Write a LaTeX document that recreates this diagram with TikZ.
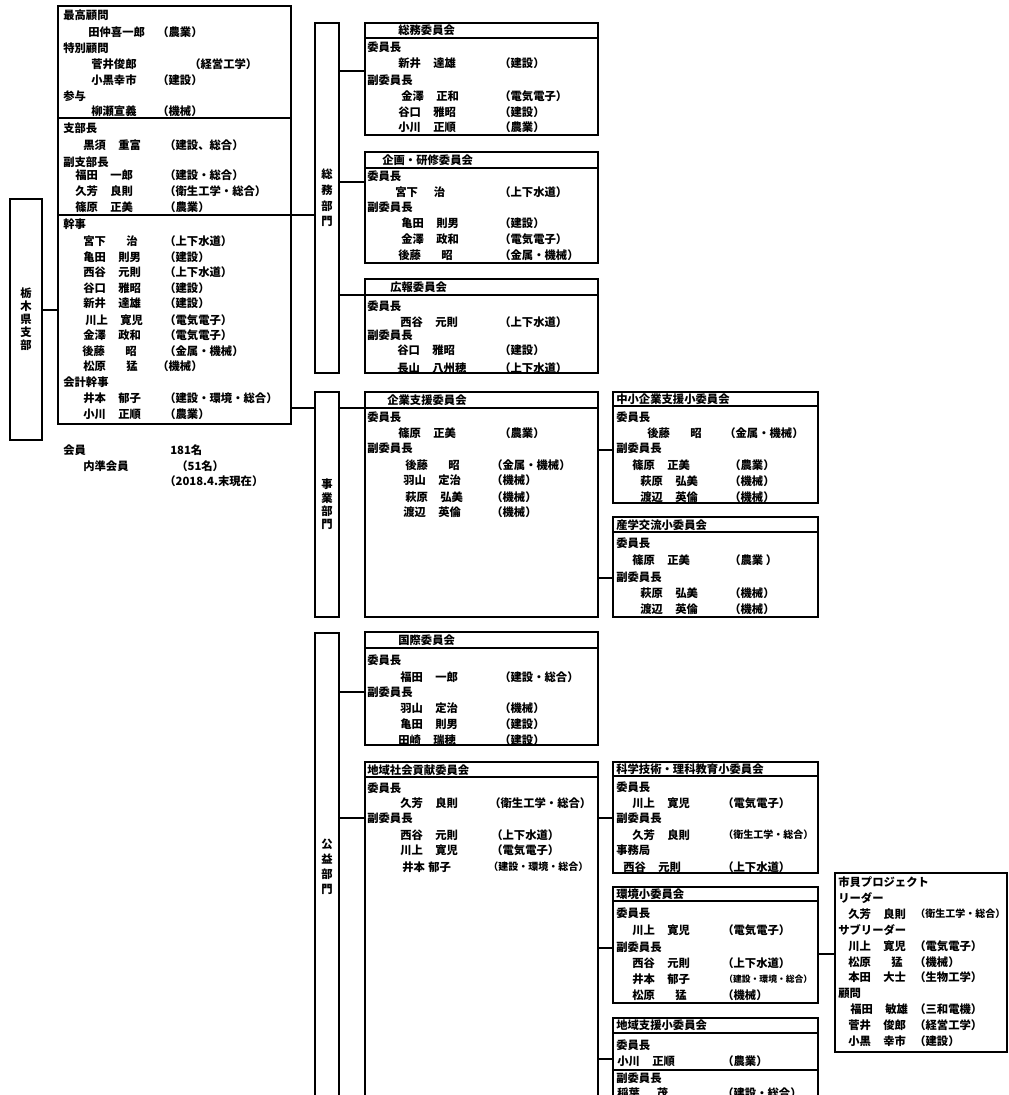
\documentclass[tikz,border=0pt]{standalone}
\usepackage{fontspec}
\setmainfont{Noto Sans CJK JP}
\usetikzlibrary{fit}
\tikzset{
  frame/.style={draw, line width=0.9pt, inner sep=0pt},
  link/.style={line width=0.9pt},
  lbl/.style={anchor=west, inner sep=0pt, font=\bfseries\fontsize{8.5}{10}\selectfont},
  vtxt/.style={align=center, inner sep=0pt, font=\bfseries\fontsize{8.5}{#1}\selectfont},
}
\newcommand\gap{\hspace{1.1em}}
\newcommand\wgap{\hspace{1.8em}}
\newcommand\smf{\fontsize{7.5}{9}\selectfont}
\newcommand\xsf{\fontsize{6.6}{8}\selectfont}
\newcommand\mem[6]{\node[lbl] (#1) at (#2,#3) {#4}; \node[lbl] (#1a) at (#5,#3) {#6};}
\newcommand\hdiv[2]{\draw[link] (#1.west |- #2) -- (#1.east |- #2);}

\begin{document}
\begin{tikzpicture}[x=0.75pt, y=-0.75pt]
  \useasboundingbox (0,0) rectangle (1009,1095);
  \foreach \n in {38,71,118,168,182,215,295,310,406,408,450,532,578,648,692,776,777,818,901,948,954,1033,1059,1070}
    \coordinate (h\n) at (0,\n);

  % boxes
  \node[frame, fit={(10,199) (42,440)}] (shibu) {};
  \node[frame, fit={(58,6) (291,424)}] (kanbu) {};
  \node[frame, fit={(315,23) (339,373)}] (somubu) {};
  \node[frame, fit={(315,392) (339,617)}] (jigyobu) {};
  \node[frame, fit={(315,633) (339,1100)}] (koekibu) {};
  \node[frame, fit={(365,23) (598,135)}] (somu) {};
  \node[frame, fit={(365,152) (598,263)}] (kikaku) {};
  \node[frame, fit={(365,279) (598,373)}] (koho) {};
  \node[frame, fit={(365,392) (598,617)}] (kigyo) {};
  \node[frame, fit={(613,392) (818,503)}] (chusho) {};
  \node[frame, fit={(613,517) (818,617)}] (sangaku) {};
  \node[frame, fit={(365,632) (598,745)}] (kokusai) {};
  \node[frame, fit={(365,762) (598,1100)}] (chiiki) {};
  \node[frame, fit={(613,762) (818,873)}] (kagaku) {};
  \node[frame, fit={(613,887) (818,1003)}] (kankyo) {};
  \node[frame, fit={(613,1018) (818,1100)}] (shien) {};
  \node[frame, fit={(835,873) (1007,1052)}] (shimin) {};

  \hdiv{kanbu}{h118} \hdiv{kanbu}{h215}
  \hdiv{somu}{h38} \hdiv{kikaku}{h168} \hdiv{koho}{h295}
  \hdiv{kigyo}{h408} \hdiv{chusho}{h406} \hdiv{sangaku}{h532}
  \hdiv{kokusai}{h648} \hdiv{chiiki}{h777} \hdiv{kagaku}{h776}
  \hdiv{kankyo}{h901} \hdiv{shien}{h1033} \hdiv{shien}{h1070}

  % connectors
  \draw[link] (shibu.east |- h310) -- (kanbu.west |- h310);
  \draw[link] (kanbu.east |- h215) -- (somubu.west |- h215);
  \draw[link] (kanbu.east |- h408) -- (jigyobu.west |- h408);
  \draw[link] (somubu.east |- h71) -- (somu.west |- h71);
  \draw[link] (somubu.east |- h182) -- (kikaku.west |- h182);
  \draw[link] (somubu.east |- h295) -- (koho.west |- h295);
  \draw[link] (jigyobu.east |- h408) -- (kigyo.west |- h408);
  \draw[link] (kigyo.east |- h450) -- (chusho.west |- h450);
  \draw[link] (kigyo.east |- h578) -- (sangaku.west |- h578);
  \draw[link] (koekibu.east |- h692) -- (kokusai.west |- h692);
  \draw[link] (koekibu.east |- h818) -- (chiiki.west |- h818);
  \draw[link] (chiiki.east |- h818) -- (kagaku.west |- h818);
  \draw[link] (chiiki.east |- h948) -- (kankyo.west |- h948);
  \draw[link] (chiiki.east |- h1059) -- (shien.west |- h1059);
  \draw[link] (kankyo.east |- h954) -- (shimin.west |- h954);

  % vertical labels
  \node[vtxt=9.8pt] (shibut) at (shibu.center) {栃\\木\\県\\支\\部};
  \node[vtxt=11.8pt] (somubut) at (somubu.center) {総\\務\\部\\門};
  \node[vtxt=10pt] (jigyobut) at (jigyobu.center) {事\\業\\部\\門};
  \node[vtxt=11.3pt] (koekibut) at (327,867) {公\\益\\部\\門};

  % officers
  \node[lbl] (k1) at (63,15) {最高顧問};
  \mem{k2}{88}{32}{田仲喜一郎}{157}{（農業）}
  \node[lbl] (k3) at (63,48) {特別顧問};
  \mem{k4}{91}{64}{菅井俊郎}{189}{（経営工学）}
  \mem{k5}{91}{80}{小黒幸市}{157}{（建設）}
  \node[lbl] (k6) at (63,96) {参与};
  \mem{k7}{91}{111}{柳瀬宣義}{157}{（機械）}
  \node[lbl] (k8) at (63,128) {支部長};
  \mem{k9}{83}{145}{黒須\gap 重富}{164}{（建設、総合）}
  \node[lbl] (k10) at (63,162) {副支部長};
  \mem{k11}{75}{175}{福田\gap 一郎}{164}{（建設・総合）}
  \mem{k12}{75}{191}{久芳\gap 良則}{164}{（衛生工学・総合）}
  \mem{k13}{75}{207}{篠原\gap 正美}{164}{（農業）}
  \node[lbl] (k14) at (63,224) {幹事};
  \mem{k15}{83}{241}{宮下\wgap 治}{164}{（上下水道）}
  \mem{k16}{83}{257}{亀田\gap 則男}{164}{（建設）}
  \mem{k17}{83}{272}{西谷\gap 元則}{164}{（上下水道）}
  \mem{k18}{83}{288}{谷口\gap 雅昭}{164}{（建設）}
  \mem{k19}{83}{303}{新井\gap 達雄}{164}{（建設）}
  \mem{k20}{85}{320}{川上\gap 寛児}{164}{（電気電子）}
  \mem{k21}{83}{335}{金澤\gap 政和}{164}{（電気電子）}
  \mem{k22}{82}{351}{後藤\wgap 昭}{164}{（金属・機械）}
  \mem{k23}{83}{366}{松原\wgap 猛}{157}{（機械）}
  \node[lbl] (k24) at (63,382) {会計幹事};
  \mem{k25}{83}{398}{井本\gap 郁子}{164}{（建設・環境・総合）}
  \mem{k26}{83}{414}{小川\gap 正順}{164}{（農業）}

  % members
  \mem{m1}{63}{450}{会員}{170}{181名}
  \mem{m2}{83}{466}{内準会員}{176}{（51名）}
  \node[lbl] (m3) at (164,481) {（2018.4.末現在）};

  % 総務委員会
  \node[lbl] (s0) at (398,30) {総務委員会};
  \node[lbl] (s1) at (367,47) {委員長};
  \mem{s2}{398}{63}{新井\gap 達雄}{499}{（建設）}
  \node[lbl] (s3) at (367,80) {副委員長};
  \mem{s4}{401}{96}{金澤\gap 正和}{499}{（電気電子）}
  \mem{s5}{398}{112}{谷口\gap 雅昭}{499}{（建設）}
  \mem{s6}{398}{127}{小川\gap 正順}{499}{（農業）}

  % 企画・研修委員会
  \node[lbl] (p0) at (382,160) {企画・研修委員会};
  \node[lbl] (p1) at (367,176) {委員長};
  \mem{p2}{395}{192}{宮下\hspace{1.4em}治}{499}{（上下水道）}
  \node[lbl] (p3) at (367,207) {副委員長};
  \mem{p4}{401}{223}{亀田\gap 則男}{499}{（建設）}
  \mem{p5}{401}{239}{金澤\gap 政和}{499}{（電気電子）}
  \mem{p6}{398}{255}{後藤\wgap 昭}{499}{（金属・機械）}

  % 広報委員会
  \node[lbl] (r0) at (390,287) {広報委員会};
  \node[lbl] (r1) at (367,306) {委員長};
  \mem{r2}{400}{322}{西谷\gap 元則}{499}{（上下水道）}
  \node[lbl] (r3) at (367,335) {副委員長};
  \mem{r4}{397}{350}{谷口\gap 雅昭}{499}{（建設）}
  \mem{r5}{397}{368}{長山\gap 八州穂}{499}{（上下水道）}

  % 企業支援委員会
  \node[lbl] (g0) at (387,400) {企業支援委員会};
  \node[lbl] (g1) at (367,417) {委員長};
  \mem{g2}{398}{433}{篠原\gap 正美}{499}{（農業）}
  \node[lbl] (g3) at (367,448) {副委員長};
  \mem{g4}{405}{465}{後藤\wgap 昭}{491}{（金属・機械）}
  \mem{g5}{403}{480}{羽山\gap 定治}{491}{（機械）}
  \mem{g6}{405}{497}{萩原\gap 弘美}{491}{（機械）}
  \mem{g7}{403}{512}{渡辺\gap 英倫}{491}{（機械）}

  % 中小企業支援小委員会
  \node[lbl] (c0) at (616,399) {中小企業支援小委員会};
  \node[lbl] (c1) at (616,417) {委員長};
  \mem{c2}{647}{433}{後藤\wgap 昭}{724}{（金属・機械）}
  \node[lbl] (c3) at (616,448) {副委員長};
  \mem{c4}{632}{465}{篠原\gap 正美}{729}{（農業）}
  \mem{c5}{640}{481}{萩原\gap 弘美}{729}{（機械）}
  \mem{c6}{640}{497}{渡辺\gap 英倫}{729}{（機械）}

  % 産学交流小委員会
  \node[lbl] (a0) at (616,525) {産学交流小委員会};
  \node[lbl] (a1) at (616,543) {委員長};
  \mem{a2}{632}{560}{篠原\gap 正美}{729}{（農業 ）}
  \node[lbl] (a3) at (616,577) {副委員長};
  \mem{a4}{640}{593}{萩原\gap 弘美}{729}{（機械）}
  \mem{a5}{640}{609}{渡辺\gap 英倫}{729}{（機械）}

  % 国際委員会
  \node[lbl] (i0) at (398,640) {国際委員会};
  \node[lbl] (i1) at (367,660) {委員長};
  \mem{i2}{400}{677}{福田\gap 一郎}{499}{（建設・総合）}
  \node[lbl] (i3) at (367,692) {副委員長};
  \mem{i4}{400}{708}{羽山\gap 定治}{499}{（機械）}
  \mem{i5}{400}{724}{亀田\gap 則男}{499}{（建設）}
  \mem{i6}{398}{740}{田崎\gap 瑞穂}{499}{（建設）}

  % 地域社会貢献委員会
  \node[lbl] (t0) at (367,770) {地域社会貢献委員会};
  \node[lbl] (t1) at (367,788) {委員長};
  \mem{t2}{400}{803}{久芳\gap 良則}{489}{（衛生工学・総合）}
  \node[lbl] (t3) at (367,818) {副委員長};
  \mem{t4}{400}{835}{西谷\gap 元則}{491}{（上下水道）}
  \mem{t5}{400}{850}{川上\gap 寛児}{491}{（電気電子）}
  \mem{t6}{402}{867}{井本\hspace{0.3em}郁子}{488}{\smf（建設・環境・総合）}

  % 科学技術・理科教育小委員会
  \node[lbl] (e0) at (616,769) {科学技術・理科教育小委員会};
  \node[lbl] (e1) at (616,787) {委員長};
  \mem{e2}{632}{803}{川上\gap 寛児}{722}{（電気電子）}
  \node[lbl] (e3) at (616,818) {副委員長};
  \mem{e4}{632}{835}{久芳\gap 良則}{723}{\smf（衛生工学・総合）}
  \node[lbl] (e5) at (616,850) {事務局};
  \mem{e6}{623}{867}{西谷\gap 元則}{722}{（上下水道）}

  % 環境小委員会
  \node[lbl] (v0) at (616,894) {環境小委員会};
  \node[lbl] (v1) at (616,913) {委員長};
  \mem{v2}{632}{930}{川上\gap 寛児}{722}{（電気電子）}
  \node[lbl] (v3) at (616,947) {副委員長};
  \mem{v4}{632}{963}{西谷\gap 元則}{722}{（上下水道）}
  \mem{v5}{632}{979}{井本\gap 郁子}{724}{\xsf（建設・環境・総合）}
  \mem{v6}{632}{995}{松原\wgap 猛}{722}{（機械）}

  % 地域支援小委員会
  \node[lbl] (w0) at (616,1025) {地域支援小委員会};
  \node[lbl] (w1) at (616,1045) {委員長};
  \mem{w2}{617}{1061}{小川\gap 正順}{722}{（農業）}
  \node[lbl] (w3) at (616,1078) {副委員長};
  \mem{w4}{617}{1093}{稲葉\hspace{1.5em}茂}{722}{（建設・総合）}

  % 市貝プロジェクト
  \node[lbl] (q0) at (838,882) {市貝プロジェクト};
  \node[lbl] (q1) at (838,898) {リーダー};
  \mem{q2}{848}{914}{久芳\gap 良則}{915}{\smf（衛生工学・総合）}
  \node[lbl] (q3) at (838,930) {サブリーダー};
  \mem{q4}{848}{946}{川上\gap 寛児}{914}{（電気電子）}
  \mem{q5}{848}{962}{松原\wgap 猛}{914}{（機械）}
  \mem{q6}{848}{977}{本田\gap 大士}{914}{（生物工学）}
  \node[lbl] (q7) at (838,993) {顧問};
  \mem{q8}{850}{1009}{福田\gap 敏雄}{914}{（三和電機）}
  \mem{q9}{848}{1025}{菅井\gap 俊郎}{914}{（経営工学）}
  \mem{q10}{848}{1041}{小黒\gap 幸市}{914}{（建設）}
\end{tikzpicture}
\end{document}
